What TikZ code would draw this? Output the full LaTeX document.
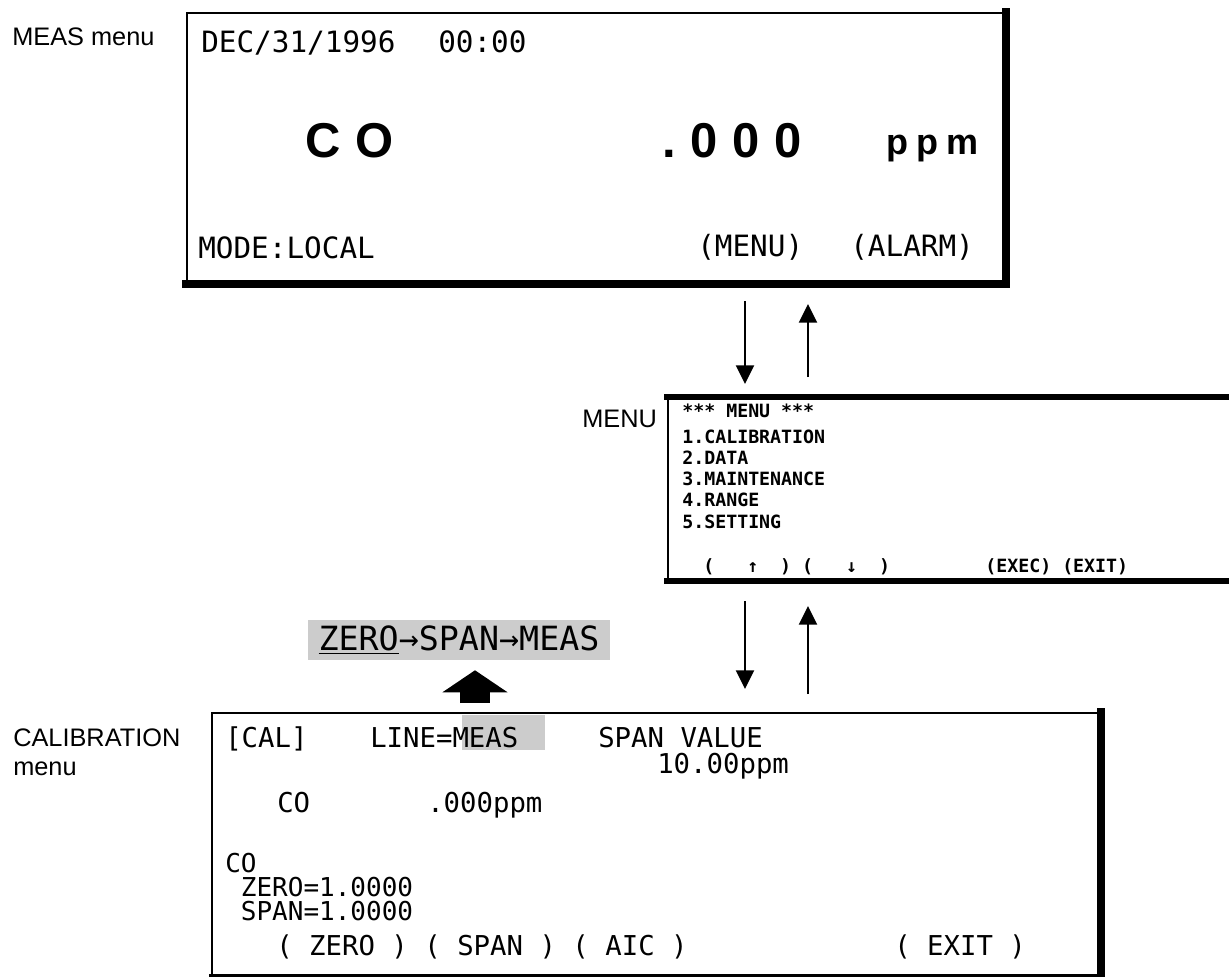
\documentclass[tikz,border=0pt]{standalone}
\usepackage{fontspec}
\setmainfont{Liberation Sans}
\newfontfamily\lcdfont{DejaVu Sans Mono}
\newfontfamily\bigfont[LetterSpace=30]{Liberation Sans}
\newfontfamily\unitfont[LetterSpace=22]{Liberation Sans}
\usetikzlibrary{positioning,arrows.meta}

\begin{document}
\begin{tikzpicture}[
    x=0.75pt, y=-0.75pt,
    >={Triangle[width=13.5pt,length=14pt]},
    sidelbl/.style={anchor=base west, inner sep=0pt, font=\fontsize{19}{23}\selectfont},
    screen/.style={draw, line width=1.5pt, inner sep=0pt},
    rim/.style={line width=5pt, line cap=rect},
    meastxt/.style={anchor=base west, inner sep=0pt, font=\lcdfont\fontsize{22}{26}\selectfont},
    caltxt/.style={anchor=base west, inner sep=0pt, font=\lcdfont\fontsize{20.5}{24}\selectfont},
    menutxt/.style={anchor=base west, inner sep=0pt, font=\lcdfont\bfseries\fontsize{13.7}{16}\selectfont},
    bigtxt/.style={anchor=base west, inner sep=0pt, font=\bigfont\bfseries\fontsize{36.7}{40}\selectfont},
    hilite/.style={fill=gray!40, inner sep=0pt},
    flow/.style={->, line width=1.5pt},
    bigarrow/.style={-{Triangle[width=48pt,length=16.5pt]}, line width=22.5pt}
]
\clip (0,0) rectangle (1229,977);

% Screens
\node[screen, minimum width=613.5pt, minimum height=202.5pt] (meas) at (596,148) {};
\node[screen, minimum width=429pt, minimum height=136.5pt] (menu) at (954,489) {};
\node[screen, minimum width=666pt, minimum height=196.5pt] (cal) at (656,844) {};

\draw[rim, line width=6pt] (meas.north east) -- (meas.south east) -- (meas.south west);
\draw[rim] (menu.north west) -- (menu.north east);
\draw[rim] (menu.south west) -- (menu.south east);
\draw[rim, line width=6pt] (cal.north east) -- (cal.south east);
\draw[rim, line width=3.5pt] (cal.south east) -- (cal.south west);

% Side labels
\node[sidelbl] (meashead) at (12,46) {MEAS menu};
\node[sidelbl] (menuhead) at (582,427) {MENU};
\node[sidelbl] (calhead) at (13,746) {CALIBRATION};
\node[sidelbl] (calsub) at (13,775) {menu};

% MEAS screen
\node[meastxt] (date) at (201,53) {DEC/31/1996};
\node[meastxt] (time) at (438,53) {00:00};
\node[bigtxt] (gas) at (305,158) {CO};
\node[bigtxt] (conc) at (662,158) {.000};
\node[bigtxt, font=\unitfont\bfseries\fontsize{27}{30}\selectfont] (unit) at (886,155) {ppm};
\node[meastxt] (mode) at (198,258) {MODE:LOCAL};
\node[meastxt] (kmenu) at (697,257) {(MENU)};
\node[meastxt] (kalarm) at (850,257) {(ALARM)};

% MENU screen
\foreach \txt/\yy/\nm in {*** MENU ***/417/m0, 1.CALIBRATION/443/m1, 2.DATA/464/m2,
    3.MAINTENANCE/485/m3, 4.RANGE/506/m4, 5.SETTING/528/m5}
    \node[menutxt] (\nm) at (682,\yy) {\txt};
\node[menutxt] (mkeys) at (703,572) {(~~~↑~~)~(~~~↓~~)};
\node[menutxt] (mexec) at (985,572) {(EXEC)~(EXIT)};

% CALIBRATION screen
\node[hilite, minimum width=62.25pt, minimum height=26.25pt] (linehl) at (503.5,732.5) {};
\node[caltxt] (caltag) at (225,747) {[CAL]};
\node[caltxt] (line) at (370,747) {LINE=MEAS};
\node[caltxt] (spanlbl) at (598,747) {SPAN~VALUE};
\node[caltxt] (spanval) at (657,773) {10.00ppm};
\node[caltxt] (cogas) at (277,812) {CO};
\node[caltxt] (coval) at (427,812) {.000ppm};
\node[caltxt, anchor=north west, align=left,
    font=\lcdfont\fontsize{19.5}{18}\selectfont] (factors) at (225,853)
    {CO\\~ZERO=1.0000\\~SPAN=1.0000};
\node[caltxt] (ckeys) at (276,955) {(~ZERO~)~(~SPAN~)~(~AIC~)};
\node[caltxt] (cexit) at (894,955) {(~EXIT~)};

% Calibration sequence
\node[hilite, minimum width=226.5pt, minimum height=30pt,
    font=\lcdfont\fontsize{25}{28}\selectfont] (seq) at (459,640) {\underline{ZERO}→SPAN→MEAS};

% Connections
\coordinate (dnx) at (745,0);
\coordinate (upx) at (808,0);
\coordinate (calup) at (475,713);

\draw[flow, shorten <=12.75pt, shorten >=9.75pt] (meas.south -| dnx) -- (menu.north -| dnx);
\draw[flow, shorten <=15pt, shorten >=15pt] (menu.north -| upx) -- (meas.south -| upx);
\draw[flow, shorten <=15pt, shorten >=17.25pt] (menu.south -| dnx) -- (cal.north -| dnx);
\draw[flow, shorten <=13.5pt, shorten >=18.75pt] (cal.north -| upx) -- (menu.south -| upx);
\draw[bigarrow, shorten <=7.5pt, shorten >=7.5pt] (calup) -- (calup |- seq.south);

\end{tikzpicture}
\end{document}
